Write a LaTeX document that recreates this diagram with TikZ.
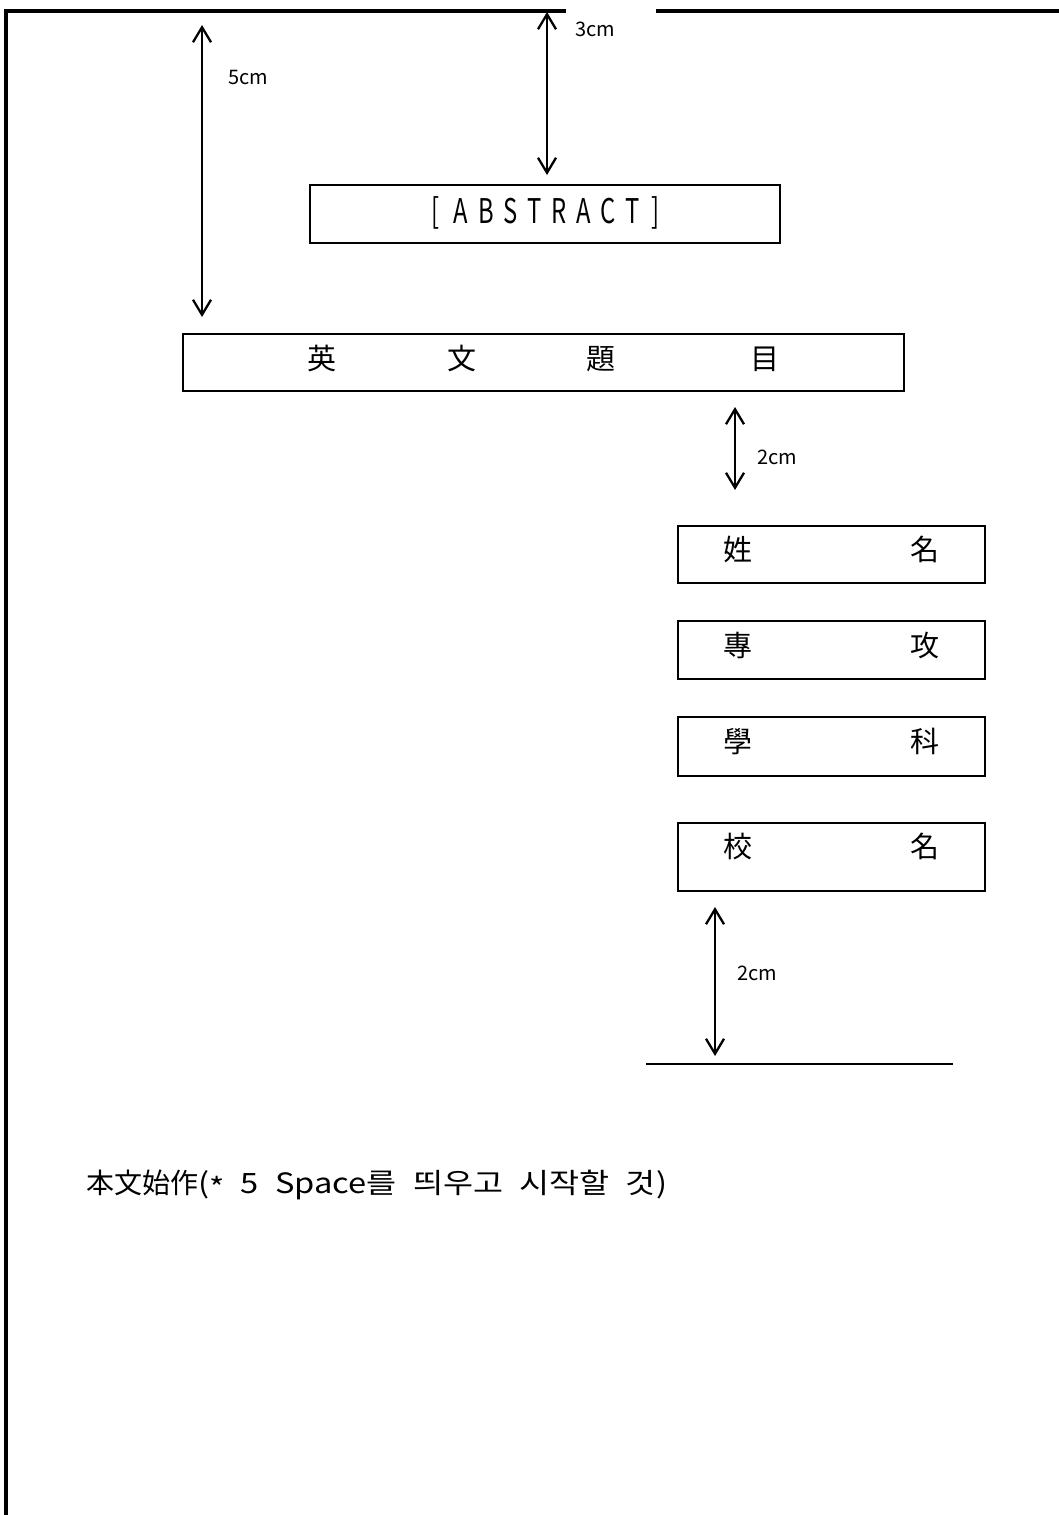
\documentclass[tikz,border=0pt]{standalone}
\usepackage{fontspec}
\usepackage{graphicx}
\setmainfont{Noto Sans CJK KR}
\usetikzlibrary{arrows.meta}
\newcommand{\absgap}{\hspace{14pt}}
\tikzset{
  frameline/.style={line width=4pt, line join=miter},
  boxst/.style={draw, line width=1.3pt, rectangle, inner sep=0pt, minimum width=#1},
  dimarr/.style={line width=2.3pt, {Straight Barb[length=15pt,width=18pt]}-{Straight Barb[length=15pt,width=18pt]}},
  lbl/.style={inner sep=0pt, anchor=base west, font=\fontsize{20}{20}\selectfont},
  cjk/.style={inner sep=0pt, anchor=base west, font=\fontsize{29}{29}\selectfont},
  baseline line/.style={line width=1.3pt}
}
\begin{document}
\begin{tikzpicture}[x=1pt,y=-1pt]
\useasboundingbox (0,0) rectangle (1059,1515);
% page frame
\coordinate (fbl) at (6,1515);
\coordinate (ftl) at (6,10.5);
\coordinate (fg1) at (566,10.5);
\coordinate (fg2) at (656,10.5);
\coordinate (ftr) at (1059,10.5);
\draw[frameline] (fbl) -- (ftl) -- (fg1);
\draw[frameline] (fg2) -- (ftr);

% ABSTRACT box
\node[boxst=470, minimum height=58] (abs) at (545,214) {};
\node[inner sep=0pt, anchor=base] (abst) at (545.5,223)
  {\scalebox{0.7}[1]{\fontsize{34}{34}\selectfont [\hspace{20pt}A\absgap B\absgap S\absgap T\absgap R\absgap A\absgap C\absgap T\hspace{16pt}]}};

% English title box
\node[boxst=721, minimum height=57] (title) at (543.5,362.5) {};
\node[cjk] (titlet) at (307.5,369) {英\hspace{111pt}文\hspace{110pt}題\hspace{135pt}目};

% right boxes
\node[boxst=307, minimum height=57] (b1) at (831.5,554.5) {};
\node[boxst=307, minimum height=58] (b2) at (831.5,650) {};
\node[boxst=307, minimum height=59] (b3) at (831.5,746.5) {};
\node[boxst=307, minimum height=68] (b4) at (831.5,857) {};
\node[cjk] (t1) at (723.5,560) {姓\hspace{158pt}名};
\node[cjk] (t2) at (723.5,656) {專\hspace{158pt}攻};
\node[cjk] (t3) at (723.5,752) {學\hspace{158pt}科};
\node[cjk] (t4) at (723.5,857) {校\hspace{158pt}名};

% bottom rule
\coordinate (rl) at (646,1064);
\coordinate (rr) at (953,1064);
\draw[baseline line] (rl) -- (rr);

% dimension arrows
\coordinate (a5t) at (202,25);
\coordinate (a5b) at (202,317);
\draw[dimarr] (a5t) -- (a5b);
\node[lbl] (l5) at (228,84) {5cm};

\coordinate (a3t) at (547,12);
\coordinate (a3b) at (547,175);
\draw[dimarr] (a3t) -- (a3b);
\node[lbl] (l3) at (575,36) {3cm};

\coordinate (a2t) at (735,407);
\coordinate (a2b) at (735,490);
\draw[dimarr] (a2t) -- (a2b);
\node[lbl] (l2a) at (757,464) {2cm};

\coordinate (a2ct) at (715,907);
\coordinate (a2cb) at (715,1056);
\draw[dimarr] (a2ct) -- (a2cb);
\node[lbl] (l2b) at (737,980) {2cm};

% body text
\node[inner sep=0pt, anchor=base west, font=\fontsize{28}{28}\selectfont] (body) at (86,1193)
  {本文始作\scalebox{1.166}[1]{\spaceskip=14pt (\raisebox{-5pt}{*}\ 5 Space를 띄우고 시작할 것)}};
\end{tikzpicture}
\end{document}
